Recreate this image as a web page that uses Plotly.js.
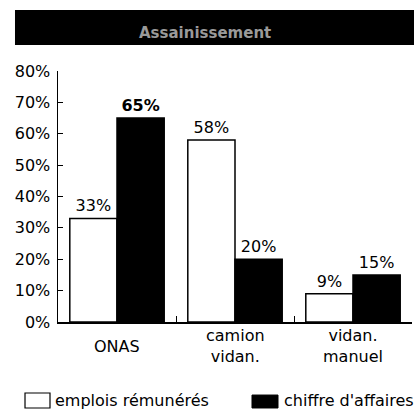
<!DOCTYPE html>
<html><head><meta charset="utf-8">
<script src="https://cdn.plot.ly/plotly-3.0.1.min.js"></script>
<style>body{margin:0;background:#fff}#c{width:414px;height:413px}</style>
</head><body><div id="c"></div>
<script>
const categories = ["ONAS", "camion<br>vidan.", "vidan.<br>manuel"];
const emplois = [33, 58, 9];
const chiffre = [65, 20, 15];
const seriesNames = ["emplois rémunérés", "chiffre d'affaires"];
const yTicks = [0, 10, 20, 30, 40, 50, 60, 70, 80];
const titleText = "Assainissement";

const F = "DejaVu Sans, sans-serif";
const traces = [
  {type:"bar", x:categories, y:emplois, name:seriesNames[0],
   marker:{color:"#ffffff", line:{color:"#000", width:1.5}},
   text:emplois.map(v=>v+"%"), textposition:"outside", cliponaxis:false,
   textfont:{family:F, size:16, color:"#000"}},
  {type:"bar", x:categories, y:chiffre, name:seriesNames[1],
   marker:{color:"#000000", line:{color:"#000", width:1.5}},
   text:chiffre.map(v=>v+"%"), textposition:"outside", cliponaxis:false,
   textfont:{family:F, size:16, color:"#000", weight:[700,400,400]}}
];
const layout = {
  width:414, height:413,
  margin:{l:58, r:2, t:71, b:91},
  paper_bgcolor:"#fff", plot_bgcolor:"#fff",
  barmode:"group", bargap:0.2, bargroupgap:0,
  showlegend:false,
  font:{family:F, color:"#000"},
  xaxis:{type:"category", range:[-0.5,2.5], showline:true, linecolor:"#000", linewidth:1.5,
    ticks:"inside", tickson:"boundaries", ticklen:6, tickcolor:"#000", showticklabels:false,
    showgrid:false, zeroline:false},
  yaxis:{range:[0,80], tickvals:yTicks, ticktext:yTicks.map(v=>v+"%"),
    showline:true, linecolor:"#000", linewidth:1.5, ticks:"inside", ticklen:5, tickcolor:"#000",
    tickfont:{family:F, size:16}, showgrid:false, zeroline:false, ticklabelstandoff:3},
  shapes:[
    {type:"rect", xref:"paper", yref:"paper", x0:-0.1215, x1:1.01, y0:1.104, y1:1.243,
     fillcolor:"#000", line:{width:0}, layer:"below"},
    {type:"rect", xref:"paper", yref:"paper", x0:-0.0932, x1:-0.0226, y0:-0.3426, y1:-0.2829,
     fillcolor:"#fff", line:{color:"#000", width:1.2}},
    {type:"rect", xref:"paper", yref:"paper", x0:0.548, x1:0.6215, y0:-0.3426, y1:-0.291,
     fillcolor:"#000", line:{color:"#000", width:1}}
  ],
  annotations:[
    ...categories.map(c=>({xref:"x", yref:"paper", x:c, y:-0.097, text:c, showarrow:false,
      font:{family:F, size:16, color:"#000"}, xanchor:"center", yanchor:"middle"})),
    {xref:"paper", yref:"paper", x:0.415, y:1.151, text:"<b>"+titleText+"</b>", showarrow:false,
     font:{family:F, size:15, color:"#9a9a9a"}, xanchor:"center", yanchor:"middle"},
    {xref:"paper", yref:"paper", x:-0.0141, y:-0.3147, text:seriesNames[0], showarrow:false,
     font:{family:F, size:16, color:"#000"}, xanchor:"left", yanchor:"middle"},
    {xref:"paper", yref:"paper", x:0.6328, y:-0.3147, text:seriesNames[1], showarrow:false,
     font:{family:F, size:16, color:"#000"}, xanchor:"left", yanchor:"middle"}
  ]
};
Plotly.newPlot("c", traces, layout, {displayModeBar:false, staticPlot:true});
</script></body></html>
